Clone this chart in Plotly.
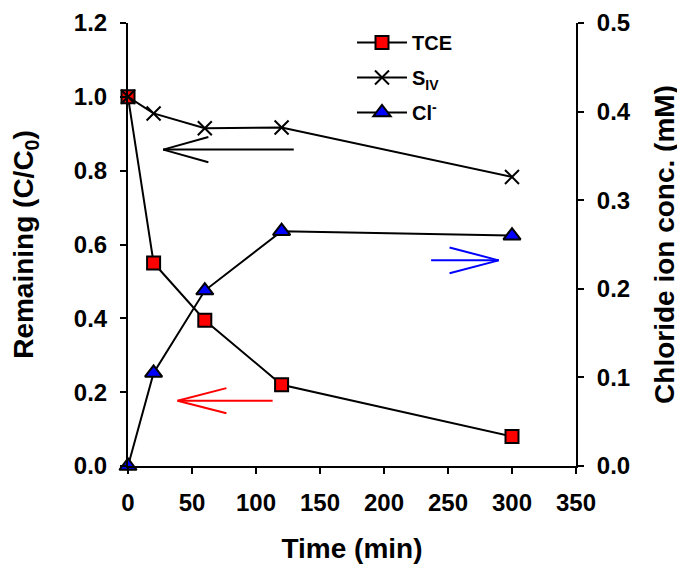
import plotly.graph_objects as go

# ---- data ----
time_min = [0, 20, 60, 120, 300]
tce_remaining = [1.0, 0.55, 0.395, 0.22, 0.08]
siv_remaining = [1.0, 0.955, 0.915, 0.917, 0.783]
chloride_mM = [0.0, 0.105, 0.198, 0.265, 0.26]

x_ticks = [0, 50, 100, 150, 200, 250, 300, 350]
left_ticks = [0.0, 0.2, 0.4, 0.6, 0.8, 1.0, 1.2]
right_ticks = [0.0, 0.1, 0.2, 0.3, 0.4, 0.5]

# open arrows (tail_x, tip_x, y, wing_x, wing_dy, color) in left-axis data coords
arrows = [
    (129.5, 27.5, 0.857, 62.8, 0.034, "black"),
    (113.0, 38.7, 0.177, 76.9, 0.034, "#ff0000"),
    (236.8, 289.6, 0.557, 251.2, 0.035, "#0000ff"),
]

FONT = "Arial"

fig = go.Figure()
fig.add_trace(go.Scatter(
    x=time_min, y=tce_remaining, name="TCE", mode="lines+markers",
    line=dict(color="black", width=2),
    marker=dict(symbol="square", size=13, color="#ff0000", line=dict(color="black", width=2)),
    cliponaxis=False, legendgroup="a",
))
fig.add_trace(go.Scatter(
    x=time_min, y=siv_remaining, name="S<sub>IV</sub>", mode="lines+markers",
    line=dict(color="black", width=2),
    marker=dict(symbol="x-thin", size=14, color="black", line=dict(color="black", width=2)),
    cliponaxis=False, legendgroup="b",
))
fig.add_trace(go.Scatter(
    x=time_min, y=chloride_mM, name="Cl<sup>-</sup>", mode="lines+markers", yaxis="y2",
    line=dict(color="black", width=2),
    marker=dict(symbol="triangle-up", size=15, color="#0000ff", line=dict(color="black", width=2)),
    cliponaxis=False, legendgroup="c",
))

shapes = []
for tail_x, tip_x, y, wing_x, dy, col in arrows:
    for (x0, y0) in [(tail_x, y), (wing_x, y + dy), (wing_x, y - dy)]:
        shapes.append(dict(type="line", xref="x", yref="y", x0=x0, y0=y0, x1=tip_x, y1=y,
                           line=dict(color=col, width=2)))

tickfont = dict(family=FONT, size=24, color="black", weight="bold")
titlefont = dict(family=FONT, size=28, color="black", weight="bold")

axis_common = dict(ticks="outside", ticklen=6, tickwidth=2, tickcolor="black",
                   showline=True, linecolor="black", linewidth=2, showgrid=False,
                   zeroline=False, tickfont=tickfont, ticklabelstandoff=8,
                   automargin=False, ticklabeloverflow="allow")

fig.update_layout(
    width=685, height=568,
    margin=dict(l=120, r=117, t=15, b=110),
    paper_bgcolor="white", plot_bgcolor="white",
    shapes=shapes,
    showlegend=True,
    legend=dict(x=0.5, y=1.0, xanchor="left", yanchor="top", itemwidth=50,
                font=dict(family=FONT, size=20, color="black", weight="bold"),
                bgcolor="rgba(0,0,0,0)", tracegroupgap=6),
    xaxis=dict(range=[0, 350], tickvals=x_ticks, **axis_common,
               title=dict(text="Time (min)", font=titlefont, standoff=24)),
    yaxis=dict(range=[0, 1.2], tickvals=left_ticks, tickformat=".1f", **axis_common,
               title=dict(text="Remaining (C/C<sub>0</sub>)", font=titlefont, standoff=46)),
    yaxis2=dict(range=[0, 0.5], tickvals=right_ticks, tickformat=".1f", overlaying="y",
                side="right", **axis_common,
                title=dict(text="Chloride ion conc. (mM)", font=titlefont, standoff=25)),
)

fig.write_html("out.html")
